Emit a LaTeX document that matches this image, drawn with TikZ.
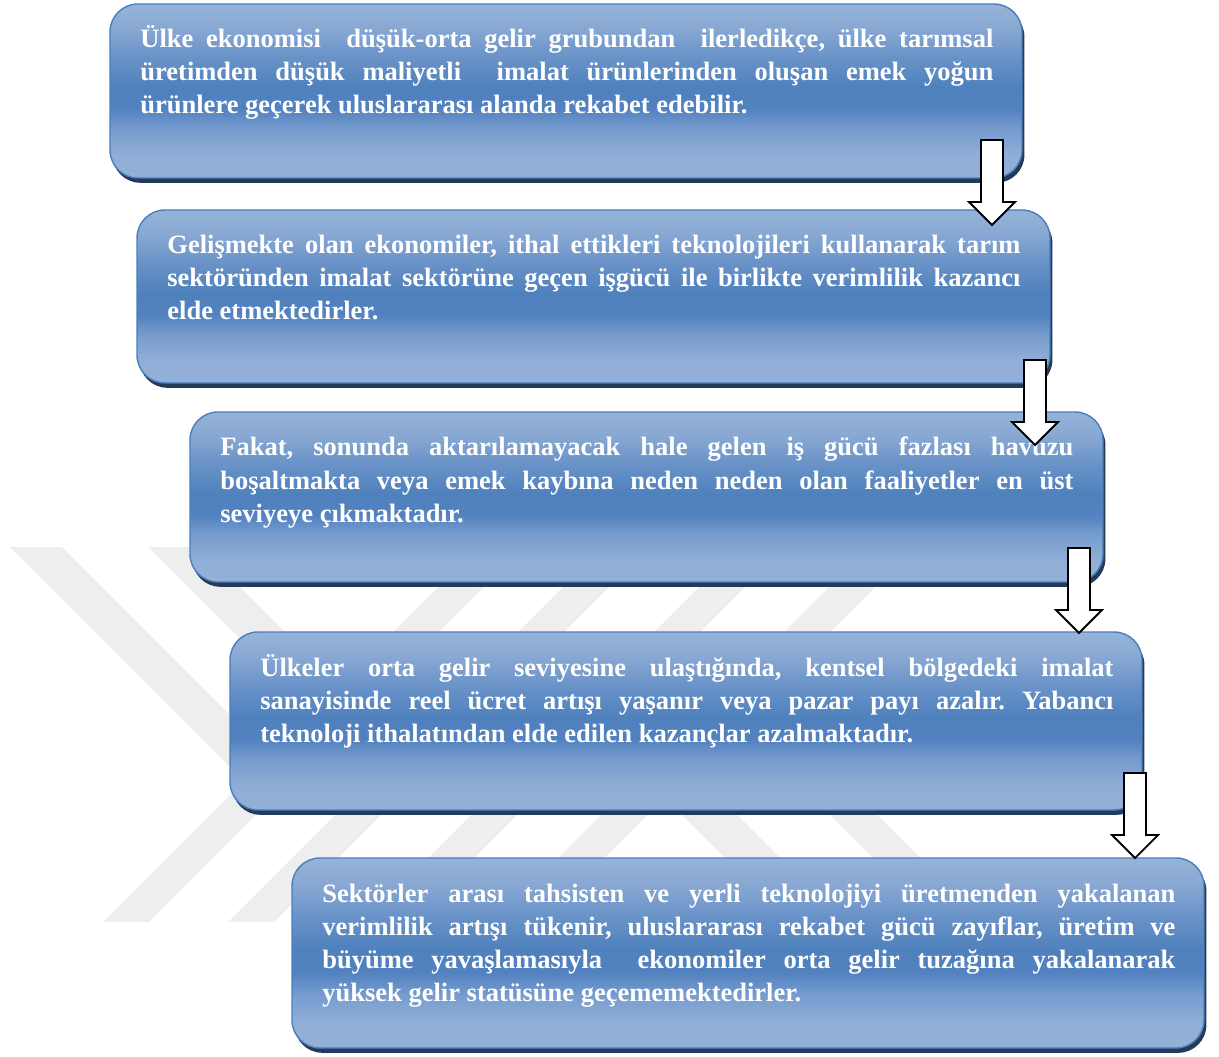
\documentclass[tikz,border=0pt]{standalone}
\usepackage{fontspec}
\setmainfont{Liberation Serif}
\usetikzlibrary{shadows,calc}
\frenchspacing
\definecolor{wmgray}{RGB}{238,238,238}
\definecolor{boxline}{RGB}{74,126,187}
\definecolor{shadowblue}{RGB}{36,58,90}
\definecolor{gtop}{RGB}{150,180,216}
\definecolor{gA}{RGB}{136,168,211}
\definecolor{gB}{RGB}{106,147,200}
\definecolor{gC}{RGB}{79,129,189}
\definecolor{gD}{RGB}{82,129,191}
\definecolor{gE}{RGB}{118,156,206}
\definecolor{gF}{RGB}{143,173,214}
\definecolor{gbot}{RGB}{147,177,216}
\pgfdeclareverticalshading{boxgrad}{100bp}{color(0bp)=(gbot); color(25bp)=(gbot); color(32bp)=(gF); color(39bp)=(gE); color(45bp)=(gD); color(51bp)=(gC); color(60bp)=(gB); color(68bp)=(gA); color(75bp)=(gtop); color(100bp)=(gtop)}
\newcommand\jline[1]{\makebox[\linewidth][s]{#1}}
\newcommand\blockdown[1]{\draw[blockarrow] (#1) ++(-11,0) -- ++(22,0) -- ++(0,-62) -- ++(12,0) -- ++(-23,-23) -- ++(-23,23) -- ++(12,0) -- cycle;}
\tikzset{
  box/.style={rectangle, rounded corners=14pt, draw=boxline, line width=0.7pt,
    shade, shading=boxgrad, inner sep=0pt, outer sep=0pt,
    drop shadow={shadow xshift=1.2pt, shadow yshift=-2.4pt, fill=shadowblue, opacity=1}},
  boxtext/.style={anchor=base west, inner sep=0pt, text=white,
    font=\fontsize{13.25}{16.5}\selectfont\bfseries},
  blockarrow/.style={draw=black, fill=white, line width=0.9pt, line join=miter},
  wm/.style={fill=wmgray, draw=none}
}
\begin{document}
\begin{tikzpicture}[x=0.5pt,y=0.5pt]
\useasboundingbox (0,0) rectangle (1219,1056);
% watermark
\begin{scope}
\clip (0,134) rectangle (1219,509);
\foreach \L in {395,520,656,786}{
  \fill[wm] (\L-292,134) -- (\L-246,134) -- (\L+129,509) -- (\L+83,509) -- cycle;
}
\fill[wm] (10,509) -- (62,509) -- (305,266) -- (253,266) -- cycle;
\fill[wm] (148,509) -- (200,509) -- (353,356) -- (301,356) -- cycle;
\fill[wm] (567,356) -- (622,356) -- (844,134) -- (789,134) -- cycle;
\fill[wm] (715,356) -- (762,356) -- (984,134) -- (937,134) -- cycle;
\end{scope}
% boxes
\node[box, minimum width=456pt, minimum height=87pt] (b1) at (566,965) {};
\node[box, minimum width=456.5pt, minimum height=86.5pt] (b2) at (593.5,759.5) {};
\node[box, minimum width=456.5pt, minimum height=85pt] (b3) at (646.5,559) {};
\node[box, minimum width=456pt, minimum height=89pt] (b4) at (686,335) {};
\node[box, minimum width=456pt, minimum height=95pt] (b5) at (748,103) {};
% texts
\node[boxtext] (t1) at ([shift={(30,-44)}]b1.north west) {\parbox[t]{426.5pt}{%
\jline{Ülke ekonomisi\ \ düşük-orta gelir grubundan\ \ ilerledikçe, ülke tarımsal}\\
\jline{üretimden düşük maliyetli\ \ imalat ürünlerinden oluşan emek yoğun}\\
ürünlere geçerek uluslararası alanda rekabet edebilir.}};
\node[boxtext] (t2) at ([shift={(30,-44)}]b2.north west) {\parbox[t]{426.5pt}{%
\jline{Gelişmekte olan ekonomiler, ithal ettikleri teknolojileri kullanarak tarım}\\
\jline{sektöründen imalat sektörüne geçen işgücü ile birlikte verimlilik kazancı}\\
elde etmektedirler.}};
\node[boxtext] (t3) at ([shift={(30,-44)}]b3.north west) {\parbox[t]{426.5pt}{%
\jline{Fakat, sonunda aktarılamayacak hale gelen iş gücü fazlası havuzu}\\
\jline{boşaltmakta veya emek kaybına neden neden olan faaliyetler en üst}\\
seviyeye çıkmaktadır.}};
\node[boxtext] (t4) at ([shift={(30,-44)}]b4.north west) {\parbox[t]{426.5pt}{%
\jline{Ülkeler orta gelir seviyesine ulaştığında, kentsel bölgedeki imalat}\\
\jline{sanayisinde reel ücret artışı yaşanır veya pazar payı azalır. Yabancı}\\
teknoloji ithalatından elde edilen kazançlar azalmaktadır.}};
\node[boxtext] (t5) at ([shift={(30,-44)}]b5.north west) {\parbox[t]{426.5pt}{%
\jline{Sektörler arası tahsisten ve yerli teknolojiyi üretmenden yakalanan}\\
\jline{verimlilik artışı tükenir, uluslararası rekabet gücü zayıflar, üretim ve}\\
\jline{büyüme yavaşlamasıyla\ \ ekonomiler orta gelir tuzağına yakalanarak}\\
yüksek gelir statüsüne geçememektedirler.}};
% arrows
\coordinate (a1) at (992,916);
\coordinate (a2) at (1035,696);
\coordinate (a3) at (1079,508);
\coordinate (a4) at (1135,283);
\blockdown{a1}
\blockdown{a2}
\blockdown{a3}
\blockdown{a4}
\end{tikzpicture}
\end{document}
